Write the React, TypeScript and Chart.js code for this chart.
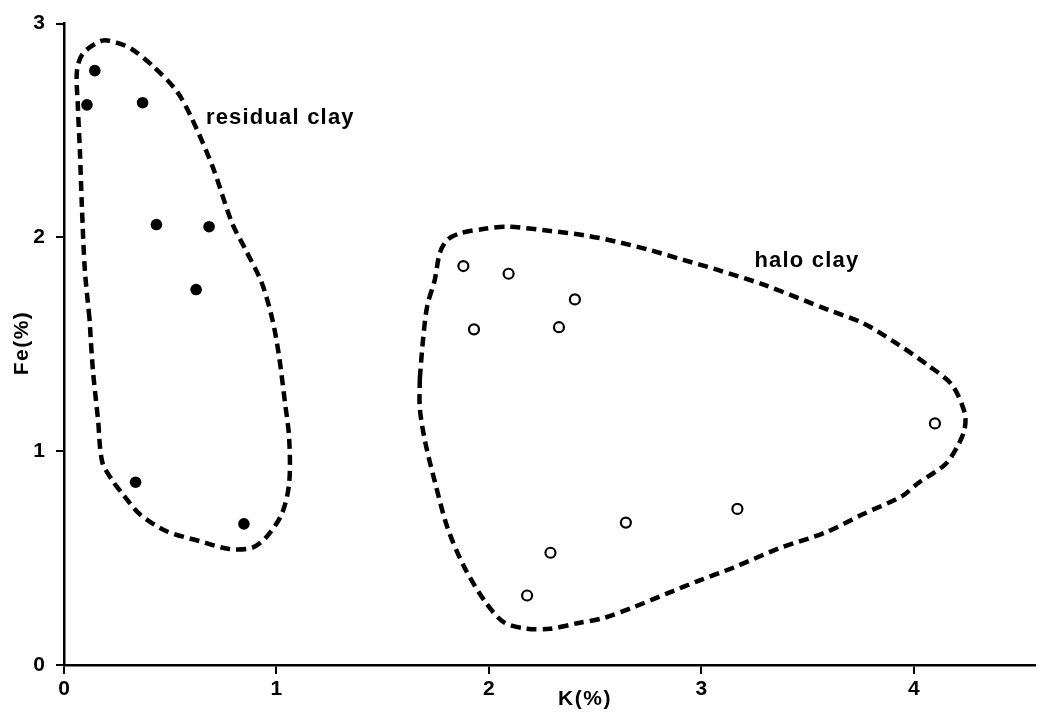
import React, { useEffect, useRef } from "react";
import { Chart, registerables } from "chart.js";

Chart.register(...registerables);

// Axis ranges / ticks
const xRange = [0, 4.57];
const yRange = [0, 3];
const tickStep = 1;

// Residual clay samples (filled dots)
const residualK = [0.145, 0.108, 0.37, 0.435, 0.683, 0.622, 0.337, 0.847];
const residualFe = [2.78, 2.62, 2.63, 2.06, 2.05, 1.756, 0.855, 0.66];

// Halo clay samples (open circles)
const haloK = [1.88, 2.093, 2.405, 1.93, 2.33, 4.1, 2.18, 2.29, 2.645, 3.17];
const haloFe = [1.866, 1.83, 1.71, 1.57, 1.58, 1.13, 0.325, 0.525, 0.666, 0.73];

// Dashed field outlines
const residualFieldK = [0.12, 0.098, 0.084, 0.075, 0.065, 0.061, 0.089, 0.18, 0.25, 0.32, 0.42, 0.53, 0.6, 0.7, 0.79, 0.856, 0.93, 0.98, 1.01, 1.04, 1.06, 1.06, 1.025, 0.95, 0.884, 0.777, 0.636, 0.48, 0.356, 0.276, 0.23, 0.18, 0.16, 0.136, 0.12];
const residualFieldFe = [1.62, 1.85, 2.15, 2.4, 2.62, 2.78, 2.86, 2.92, 2.91, 2.88, 2.8, 2.685, 2.56, 2.33, 2.07, 1.94, 1.79, 1.62, 1.46, 1.23, 1.06, 0.85, 0.706, 0.595, 0.548, 0.543, 0.58, 0.627, 0.706, 0.8, 0.86, 0.95, 1.15, 1.38, 1.62];

const haloFieldK = [1.675, 1.69, 1.71, 1.745, 1.77, 1.806, 1.867, 1.98, 2.087, 2.29, 2.45, 2.6, 2.76, 2.915, 3.07, 3.29, 3.6, 3.76, 3.91, 4.07, 4.18, 4.24, 4.24, 4.21, 4.15, 4.02, 3.945, 3.76, 3.585, 3.365, 3.15, 2.99, 2.84, 2.68, 2.54, 2.415, 2.29, 2.18, 2.07, 1.98, 1.886, 1.806, 1.745, 1.7, 1.675, 1.675];
const haloFieldFe = [1.34, 1.52, 1.68, 1.8, 1.93, 1.99, 2.02, 2.04, 2.05, 2.03, 2.01, 1.98, 1.94, 1.895, 1.85, 1.78, 1.66, 1.6, 1.51, 1.4, 1.31, 1.18, 1.105, 1.03, 0.94, 0.85, 0.79, 0.705, 0.62, 0.545, 0.455, 0.395, 0.335, 0.27, 0.22, 0.195, 0.17, 0.17, 0.2, 0.3, 0.455, 0.64, 0.86, 1.045, 1.2, 1.34];

// Field labels (text, anchor in data units)
const fieldLabels = ["residual clay", "halo clay"];
const fieldLabelK = [0.668, 3.25];
const fieldLabelFe = [2.56, 1.89];

const xTitle = "K(%)";
const yTitle = "Fe(%)";

const FONT = "'Liberation Sans', Arial, Helvetica, sans-serif";

const toPts = (xs: number[], ys: number[]) => xs.map((x, i) => ({ x, y: ys[i] }));

export default function App() {
  const ref = useRef<HTMLCanvasElement | null>(null);

  useEffect(() => {
    const canvas = ref.current;
    if (!canvas) return;

    const textPlugin = {
      id: "textPlugin",
      afterDraw(chart: any) {
        const { ctx, scales } = chart;
        const xs = scales.x;
        const ys = scales.y;
        ctx.save();
        ctx.fillStyle = "#000";
        ctx.font = `bold 22px ${FONT}`;
        (ctx as any).letterSpacing = "1.2px";
        ctx.textBaseline = "middle";
        ctx.textAlign = "left";
        fieldLabels.forEach((t, i) => {
          ctx.fillText(t, xs.getPixelForValue(fieldLabelK[i]), ys.getPixelForValue(fieldLabelFe[i]));
        });
        // axis titles
        ctx.font = `bold 21px ${FONT}`;
        (ctx as any).letterSpacing = "1.5px";
        ctx.textAlign = "center";
        ctx.fillText(xTitle, 585, 699);
        ctx.translate(22, 343);
        ctx.rotate(-Math.PI / 2);
        ctx.fillText(yTitle, 0, 0);
        ctx.restore();
      },
    };

    const tickFont = { family: FONT, size: 21, weight: "bold" as const };

    const chart = new Chart(canvas, {
      type: "scatter",
      data: {
        datasets: [
          {
            label: "residual field",
            data: toPts(residualFieldK, residualFieldFe),
            showLine: true,
            borderColor: "#000",
            borderWidth: 4.5,
            borderDash: [10, 6],
            pointRadius: 0,
            tension: 0.3,
            fill: false,
          },
          {
            label: "halo field",
            data: toPts(haloFieldK, haloFieldFe),
            showLine: true,
            borderColor: "#000",
            borderWidth: 4.5,
            borderDash: [10, 6],
            pointRadius: 0,
            tension: 0.3,
            fill: false,
          },
          {
            label: "residual clay",
            data: toPts(residualK, residualFe),
            showLine: false,
            pointRadius: 5.8,
            pointBackgroundColor: "#000",
            pointBorderColor: "#000",
            pointBorderWidth: 0,
          },
          {
            label: "halo clay",
            data: toPts(haloK, haloFe),
            showLine: false,
            pointRadius: 5,
            pointBackgroundColor: "#fff",
            pointBorderColor: "#000",
            pointBorderWidth: 2.2,
          },
        ],
      },
      options: {
        animation: false,
        responsive: false,
        events: [],
        layout: { padding: { top: 19, right: 2, left: 0, bottom: 0 } },
        plugins: { legend: { display: false }, tooltip: { enabled: false } },
        scales: {
          x: {
            type: "linear",
            min: xRange[0],
            max: xRange[1],
            afterFit: (s: any) => {
              s.height = 48;
            },
            ticks: {
              stepSize: tickStep,
              includeBounds: false,
              color: "#000",
              font: tickFont,
              padding: 3,
              maxRotation: 0,
            },
            grid: { drawOnChartArea: false, drawTicks: true, tickLength: 9, color: "#000", lineWidth: 2 },
            border: { display: true, color: "#000", width: 2.5 },
          },
          y: {
            type: "linear",
            min: yRange[0],
            max: yRange[1],
            afterFit: (s: any) => {
              s.width = 64;
            },
            ticks: {
              stepSize: tickStep,
              includeBounds: false,
              color: "#000",
              font: tickFont,
              padding: 11,
            },
            grid: { drawOnChartArea: false, drawTicks: true, tickLength: 8, color: "#000", lineWidth: 2 },
            border: { display: true, color: "#000", width: 2.5 },
          },
        },
      },
      plugins: [textPlugin],
    } as any);

    return () => chart.destroy();
  }, []);

  return (
    <canvas
      ref={ref}
      width={1042}
      height={713}
      style={{ position: "absolute", left: 0, top: 0, display: "block", background: "#fff" }}
    />
  );
}
